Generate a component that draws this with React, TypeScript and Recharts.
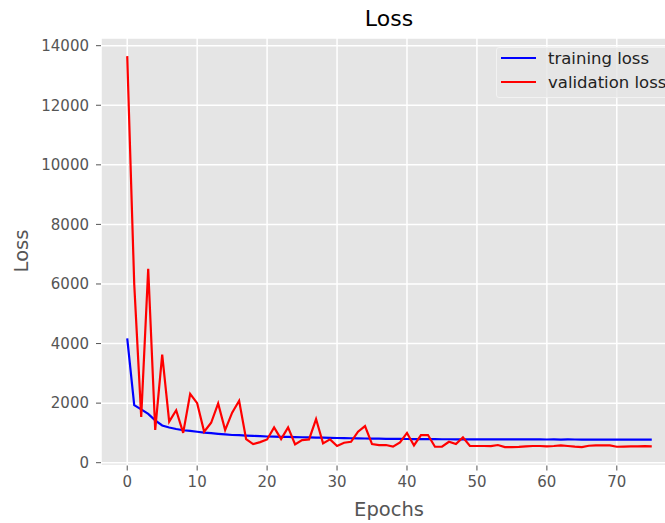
import React from 'react';
import { LineChart, Line, XAxis, YAxis, CartesianGrid } from 'recharts';

const epochs: number[] = Array.from({ length: 76 }, (_, i) => i);

const trainingLoss: number[] = [
  4170, 1930, 1790, 1640, 1420, 1250, 1180, 1130, 1090, 1070,
  1040, 1010, 990, 970, 950, 930, 925, 910, 900, 890,
  880, 875, 870, 865, 860, 855, 850, 845, 840, 835,
  830, 825, 820, 815, 812, 808, 805, 802, 800, 798,
  795, 793, 792, 790, 789, 788, 787, 786, 786, 785,
  785, 784, 784, 783, 783, 782, 782, 781, 781, 780,
  779, 785, 778, 782, 779, 777, 778, 776, 777, 775,
  776, 774, 773, 773, 772, 772,
];

const validationLoss: number[] = [
  13650, 6000, 1540, 6510, 1100, 3630, 1380, 1760, 1000, 2310,
  2000, 1040, 1340, 1990, 1095, 1680, 2080, 790, 626, 690,
  780, 1185, 790, 1185, 616, 760, 783, 1465, 650, 783,
  560, 670, 703, 1040, 1230, 626, 593, 593, 540, 683,
  1000, 580, 928, 928, 536, 536, 703, 626, 850, 560,
  560, 560, 555, 593, 526, 526, 530, 550, 560, 560,
  550, 560, 583, 560, 540, 526, 570, 583, 583, 583,
  536, 540, 545, 550, 555, 550,
];

const xTicks: number[] = [0, 10, 20, 30, 40, 50, 60, 70];
const yTicks: number[] = [0, 2000, 4000, 6000, 8000, 10000, 12000, 14000];

const seriesNames = { train: 'training loss', val: 'validation loss' };

const data = epochs.map((e, i) => ({ epoch: e, train: trainingLoss[i], val: validationLoss[i] }));

const FONT = '"DejaVu Sans", sans-serif';
const tickStyle = { fill: '#555555', fontSize: 15, fontFamily: FONT };

const LegendBox = () => (
  <div
    style={{
      position: 'absolute',
      left: 496,
      top: 47,
      width: 200,
      height: 51,
      background: 'rgba(229,229,229,0.8)',
      border: '1px solid rgba(242,242,242,1)',
      borderRadius: 3,
      boxSizing: 'border-box',
      pointerEvents: 'none',
    }}
  >
    <svg width={200} height={51} style={{ position: 'absolute', left: -1, top: -1 }}>
      <line x1={5} x2={40} y1={11} y2={11} stroke="#0000FF" strokeWidth={2.2} />
      <text x={52} y={11} dominantBaseline="central" fontSize={16.5} fontFamily={FONT} fill="#222">
        {seriesNames.train}
      </text>
      <line x1={5} x2={40} y1={35} y2={35} stroke="#FF0000" strokeWidth={2.2} />
      <text x={52} y={35} dominantBaseline="central" fontSize={16.5} fontFamily={FONT} fill="#222">
        {seriesNames.val}
      </text>
    </svg>
  </div>
);

export default function App() {
  return (
    <div
      style={{
        position: 'fixed',
        left: 0,
        top: 0,
        width: 665,
        height: 523,
        overflow: 'hidden',
        background: '#FFFFFF',
      }}
    >
      <div style={{ position: 'relative', width: 690, height: 523 }}>
        <LineChart
          width={690}
          height={523}
          data={data}
          margin={{ top: 38, right: 12, bottom: 0, left: 0 }}
        >
          <CartesianGrid stroke="#FFFFFF" strokeWidth={1.5} fill="#E5E5E5" fillOpacity={1} />
          <XAxis
            dataKey="epoch"
            type="number"
            domain={[-3.75, 78.75]}
            ticks={xTicks}
            allowDataOverflow
            height={57.5}
            axisLine={false}
            tickLine={{ stroke: '#555555' }}
            tickSize={5}
            tickMargin={6}
            tick={tickStyle}
            interval={0}
          />
          <YAxis
            type="number"
            domain={[-94, 14258]}
            ticks={yTicks}
            allowDataOverflow
            width={101}
            axisLine={false}
            tickLine={{ stroke: '#555555' }}
            tickSize={5}
            tickMargin={7}
            tick={tickStyle}
            interval={0}
          />
          <Line
            dataKey="train"
            name={seriesNames.train}
            stroke="#0000FF"
            strokeWidth={2.2}
            dot={false}
            activeDot={false}
            isAnimationActive={false}
            type="linear"
          />
          <Line
            dataKey="val"
            name={seriesNames.val}
            stroke="#FF0000"
            strokeWidth={2.2}
            dot={false}
            activeDot={false}
            isAnimationActive={false}
            type="linear"
          />
        </LineChart>
        <LegendBox />
        <svg
          width={690}
          height={523}
          style={{ position: 'absolute', left: 0, top: 0, pointerEvents: 'none' }}
        >
          <text x={389} y={26} textAnchor="middle" fontSize={22} fontFamily={FONT} fill="#000">
            Loss
          </text>
          <text x={389} y={516} textAnchor="middle" fontSize={19.5} fontFamily={FONT} fill="#555555">
            Epochs
          </text>
          <text
            x={28}
            y={251}
            textAnchor="middle"
            fontSize={19.5}
            fontFamily={FONT}
            fill="#555555"
            transform="rotate(-90 28 251)"
          >
            Loss
          </text>
        </svg>
      </div>
    </div>
  );
}
